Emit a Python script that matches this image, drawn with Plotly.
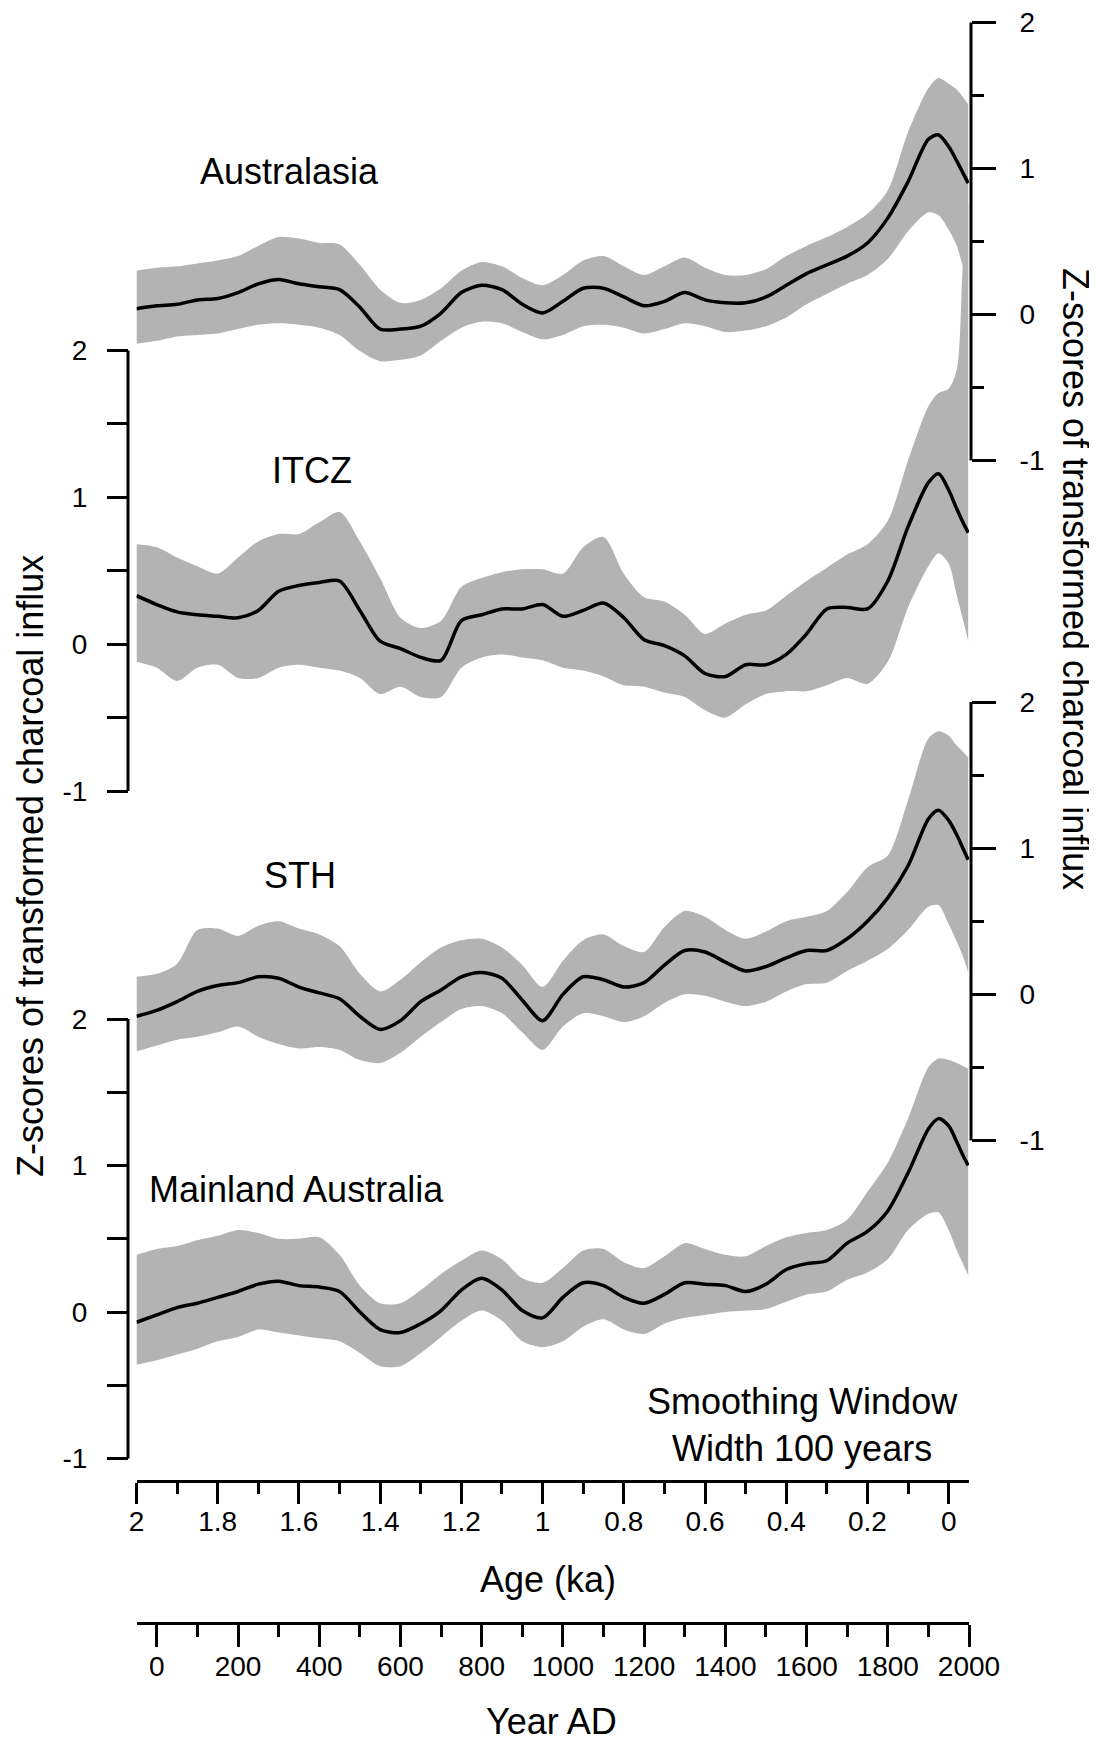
import plotly.graph_objects as go

# ---------------- data ----------------
AGE = [2.0, 1.95, 1.9, 1.85, 1.8, 1.75, 1.7, 1.65, 1.6, 1.55, 1.5, 1.45, 1.4, 1.35,
       1.3, 1.25, 1.2, 1.15, 1.1, 1.05, 1.0, 0.95, 0.9, 0.85, 0.8, 0.75, 0.7, 0.65,
       0.6, 0.55, 0.5, 0.45, 0.4, 0.35, 0.3, 0.25, 0.2, 0.15, 0.1, 0.05, 0.025, 0.0,
       -0.02, -0.035, -0.048]

AUS_MEAN = [0.04, 0.06, 0.07, 0.10, 0.11, 0.15, 0.21, 0.24, 0.21, 0.19, 0.17, 0.05, -0.10, -0.10,
            -0.08, 0.01, 0.15, 0.20, 0.17, 0.07, 0.01, 0.09, 0.18, 0.18, 0.12, 0.06, 0.09, 0.15,
            0.10, 0.08, 0.08, 0.12, 0.20, 0.28, 0.34, 0.40, 0.49, 0.66, 0.91, 1.20, 1.23, 1.15,
            1.05, 0.97, 0.90]
AUS_UP = [0.30, 0.32, 0.33, 0.35, 0.37, 0.40, 0.47, 0.53, 0.52, 0.49, 0.48, 0.34, 0.17, 0.08,
          0.10, 0.18, 0.30, 0.36, 0.33, 0.25, 0.20, 0.27, 0.37, 0.40, 0.33, 0.27, 0.33, 0.39,
          0.32, 0.27, 0.27, 0.31, 0.40, 0.47, 0.53, 0.60, 0.69, 0.85, 1.25, 1.55, 1.62, 1.58,
          1.54, 1.49, 1.44]
AUS_LO = [-0.20, -0.18, -0.15, -0.14, -0.13, -0.10, -0.07, -0.06, -0.07, -0.09, -0.14, -0.25, -0.32, -0.31,
          -0.28, -0.18, -0.09, -0.05, -0.06, -0.12, -0.17, -0.14, -0.08, -0.07, -0.09, -0.13, -0.10, -0.06,
          -0.08, -0.12, -0.11, -0.08, -0.02, 0.07, 0.14, 0.21, 0.27, 0.38, 0.57, 0.70, 0.68, 0.58,
          0.47, 0.33, 0.22]

ITCZ_MEAN = [0.33, 0.27, 0.22, 0.20, 0.19, 0.18, 0.23, 0.36, 0.40, 0.42, 0.43, 0.23, 0.02, -0.03,
             -0.09, -0.11, 0.16, 0.20, 0.24, 0.24, 0.27, 0.19, 0.23, 0.28, 0.18, 0.03, -0.01, -0.08,
             -0.20, -0.22, -0.14, -0.14, -0.07, 0.07, 0.24, 0.25, 0.24, 0.43, 0.80, 1.10, 1.16, 1.05,
             0.92, 0.83, 0.76]
ITCZ_UP = [0.68, 0.66, 0.59, 0.53, 0.48, 0.59, 0.70, 0.75, 0.75, 0.83, 0.90, 0.70, 0.45, 0.18,
           0.11, 0.16, 0.39, 0.45, 0.49, 0.51, 0.51, 0.48, 0.66, 0.73, 0.48, 0.32, 0.29, 0.20,
           0.07, 0.14, 0.20, 0.23, 0.33, 0.43, 0.52, 0.61, 0.68, 0.84, 1.25, 1.62, 1.71, 1.74,
           1.87, 2.60, 3.00]
ITCZ_LO = [-0.12, -0.16, -0.25, -0.16, -0.14, -0.23, -0.23, -0.16, -0.14, -0.16, -0.18, -0.23, -0.34, -0.29,
           -0.36, -0.36, -0.16, -0.09, -0.07, -0.09, -0.11, -0.16, -0.18, -0.22, -0.28, -0.29, -0.33, -0.36,
           -0.45, -0.50, -0.41, -0.34, -0.32, -0.32, -0.28, -0.23, -0.27, -0.12, 0.25, 0.53, 0.62, 0.55,
           0.33, 0.17, 0.02]

STH_MEAN = [-0.15, -0.11, -0.05, 0.02, 0.06, 0.08, 0.12, 0.11, 0.05, 0.01, -0.03, -0.15, -0.24, -0.18,
            -0.05, 0.03, 0.12, 0.15, 0.11, -0.04, -0.18, 0.00, 0.12, 0.10, 0.05, 0.08, 0.20, 0.30,
            0.29, 0.22, 0.16, 0.19, 0.25, 0.30, 0.30, 0.38, 0.50, 0.66, 0.88, 1.20, 1.26, 1.19,
            1.09, 1.00, 0.92]
STH_UP = [0.12, 0.14, 0.21, 0.44, 0.45, 0.40, 0.47, 0.50, 0.45, 0.41, 0.33, 0.14, 0.02, 0.10,
          0.22, 0.32, 0.37, 0.38, 0.32, 0.20, 0.05, 0.23, 0.37, 0.41, 0.33, 0.29, 0.46, 0.57,
          0.53, 0.44, 0.38, 0.43, 0.50, 0.53, 0.57, 0.70, 0.87, 0.95, 1.33, 1.75, 1.80, 1.77,
          1.70, 1.66, 1.62]
STH_LO = [-0.39, -0.35, -0.31, -0.29, -0.26, -0.22, -0.29, -0.34, -0.37, -0.36, -0.38, -0.45, -0.47, -0.40,
          -0.29, -0.19, -0.10, -0.08, -0.13, -0.26, -0.38, -0.22, -0.13, -0.15, -0.19, -0.15, -0.06, 0.00,
          -0.01, -0.05, -0.08, -0.05, 0.02, 0.07, 0.08, 0.16, 0.23, 0.31, 0.44, 0.60, 0.61, 0.48,
          0.36, 0.26, 0.15]

MAIN_MEAN = [-0.07, -0.02, 0.03, 0.06, 0.10, 0.14, 0.19, 0.21, 0.18, 0.17, 0.14, 0.00, -0.12, -0.14,
             -0.08, 0.01, 0.15, 0.23, 0.15, 0.01, -0.04, 0.10, 0.20, 0.18, 0.10, 0.06, 0.12, 0.20,
             0.19, 0.18, 0.14, 0.19, 0.29, 0.33, 0.35, 0.47, 0.55, 0.69, 0.95, 1.25, 1.32, 1.27,
             1.16, 1.07, 1.00]
MAIN_UP = [0.39, 0.43, 0.45, 0.49, 0.52, 0.56, 0.54, 0.50, 0.50, 0.51, 0.39, 0.18, 0.06, 0.06,
           0.15, 0.26, 0.35, 0.42, 0.36, 0.23, 0.20, 0.30, 0.42, 0.43, 0.34, 0.30, 0.38, 0.47,
           0.43, 0.39, 0.38, 0.45, 0.51, 0.54, 0.56, 0.63, 0.82, 1.02, 1.32, 1.67, 1.73, 1.72,
           1.70, 1.68, 1.66]
MAIN_LO = [-0.36, -0.33, -0.29, -0.25, -0.20, -0.17, -0.12, -0.14, -0.16, -0.18, -0.20, -0.28, -0.37, -0.37,
           -0.28, -0.17, -0.06, 0.01, -0.06, -0.20, -0.24, -0.20, -0.10, -0.05, -0.12, -0.15, -0.08, -0.04,
           -0.02, 0.00, 0.01, 0.02, 0.07, 0.12, 0.14, 0.22, 0.27, 0.36, 0.56, 0.67, 0.68, 0.56,
           0.42, 0.33, 0.25]

SERIES = [
    ("Australasia", AUS_MEAN, AUS_UP, AUS_LO, "y2"),
    ("ITCZ", ITCZ_MEAN, ITCZ_UP, ITCZ_LO, "y"),
    ("STH", STH_MEAN, STH_UP, STH_LO, "y3"),
    ("Mainland Australia", MAIN_MEAN, MAIN_UP, MAIN_LO, "y4"),
]

Z_TICKS = [-1, 0, 1, 2]
Z_MINOR = [-0.5, 0.5, 1.5]
AGE_RANGE = [2.0, -0.05]
YEAR_RANGE = [-50, 2000]
YEAR_TICKS = [0, 200, 400, 600, 800, 1000, 1200, 1400, 1600, 1800, 2000]

# ---------------- layout helpers ----------------
W, H = 1097, 1745
OFF = 8  # page body margin of the exported html
BAND = "#b3b3b3"
FONT = "Liberation Sans, Arial, sans-serif"


def fx(p):
    return (p - OFF) / W


def fy(p):
    return 1 - (p - OFF) / H


def full_range(px_two, px_m1):
    a, b = px_two - OFF, px_m1 - OFF
    u = (b - a) / 3.0
    return [2 - (H - a) / u, 2 + a / u]


fig = go.Figure()

for name, mean, up, lo, ax in SERIES:
    fig.add_trace(go.Scatter(
        x=AGE, y=up, xaxis="x", yaxis=ax, mode="lines",
        line=dict(width=0, color=BAND, shape="spline", smoothing=0.8),
        hoverinfo="skip", showlegend=False))
    fig.add_trace(go.Scatter(
        x=AGE, y=lo, xaxis="x", yaxis=ax, mode="lines", fill="tonexty",
        fillcolor=BAND, line=dict(width=0, color=BAND, shape="spline", smoothing=0.8),
        hoverinfo="skip", showlegend=False))

for name, mean, up, lo, ax in SERIES:
    fig.add_trace(go.Scatter(
        x=AGE, y=mean, xaxis="x", yaxis=ax, mode="lines",
        line=dict(color="black", width=3.5, shape="spline", smoothing=0.8),
        name=name, showlegend=False))

# empty carrier so that the calendar-year axis is drawn
fig.add_trace(go.Scatter(x=YEAR_TICKS, y=[None] * len(YEAR_TICKS), xaxis="x2", yaxis="y",
                         mode="markers", hoverinfo="skip", showlegend=False))

tickfont = dict(family=FONT, size=28, color="black")


def yax(side, pos, rng, ticklen, minorlen, standoff, overlay=None):
    d = dict(
        range=rng, anchor="free", position=pos, side=side,
        showline=False, showgrid=False, zeroline=False,
        tickmode="array", tickvals=Z_TICKS, ticktext=[str(v) for v in Z_TICKS],
        ticks="outside", ticklen=ticklen, tickwidth=3, tickcolor="black",
        minor=dict(tickmode="array", tickvals=Z_MINOR, ticks="outside",
                   ticklen=minorlen, tickwidth=3, tickcolor="black", showgrid=False),
        tickfont=tickfont, ticklabelstandoff=standoff, ticklabeloverflow="allow",
        automargin=False, fixedrange=True)
    if overlay:
        d["overlaying"] = overlay
    return d


LEFT_X, RIGHT_X = 128, 971

fig.update_layout(
    width=W, height=H, margin=dict(l=0, r=0, t=0, b=0),
    paper_bgcolor="white", plot_bgcolor="rgba(0,0,0,0)", showlegend=False,
    font=dict(family=FONT, color="black"),
    xaxis=dict(domain=[fx(136.5), fx(969)], range=AGE_RANGE, anchor="free",
               position=fy(1481), showline=True, linewidth=3, linecolor="black",
               showgrid=False, zeroline=False, ticks="outside", ticklen=21,
               tickwidth=3, tickcolor="black", tick0=0, dtick=0.2,
               minor=dict(tick0=0, dtick=0.1, ticks="outside", ticklen=11,
                          tickwidth=3, tickcolor="black", showgrid=False),
               tickfont=tickfont, ticklabelstandoff=-7, ticklabeloverflow="allow",
               automargin=False),
    xaxis2=dict(domain=[fx(136.5), fx(969)], range=YEAR_RANGE, overlaying="x",
                anchor="free", position=fy(1623), side="bottom", showline=True,
                linewidth=3, linecolor="black", showgrid=False, zeroline=False,
                ticks="outside", ticklen=22, tickwidth=3, tickcolor="black",
                tickmode="array", tickvals=YEAR_TICKS,
                ticktext=[str(v) for v in YEAR_TICKS],
                minor=dict(tick0=0, dtick=100, ticks="outside", ticklen=12,
                           tickwidth=3, tickcolor="black", showgrid=False),
                tickfont=tickfont, ticklabelstandoff=-5, ticklabeloverflow="allow",
                automargin=False),
    yaxis=yax("left", fx(LEFT_X), full_range(350.5, 791), 21, 21, 14),
    yaxis2=yax("right", fx(RIGHT_X), full_range(22.5, 460.5), 24, 12, 18, "y"),
    yaxis3=yax("right", fx(RIGHT_X), full_range(702, 1140.5), 24, 12, 18, "y"),
    yaxis4=yax("left", fx(LEFT_X), full_range(1019, 1458.5), 21, 21, 14, "y"),
)

# vertical axis lines spanning only -1..2 on each z-score axis
for ax, xp in (("y", LEFT_X), ("y2", RIGHT_X), ("y3", RIGHT_X), ("y4", LEFT_X)):
    fig.add_shape(type="line", xref="paper", yref=ax, x0=fx(xp), x1=fx(xp),
                  y0=Z_TICKS[0], y1=Z_TICKS[-1], line=dict(color="black", width=3))

big = dict(family=FONT, size=36, color="black")
texts = [
    ("Australasia", 289, 172, 0),
    ("ITCZ", 312, 471, 0),
    ("STH", 300, 876, 0),
    ("Mainland Australia", 296, 1189, 0),
    ("Smoothing Window<br>Width 100 years", 802, 1425, 0),
    ("Age (ka)", 548, 1579, 0),
    ("Year AD", 551, 1721, 0),
    ("Z-scores of transformed charcoal influx", 31, 866, -90),
    ("Z-scores of transformed charcoal influx", 1076, 579, 90),
]
for t, x, y, ang in texts:
    fig.add_annotation(text=t, xref="paper", yref="paper", x=fx(x), y=fy(y),
                       xanchor="center", yanchor="middle", showarrow=False,
                       textangle=ang, font=big, align="center")

fig.write_html("out.html")
